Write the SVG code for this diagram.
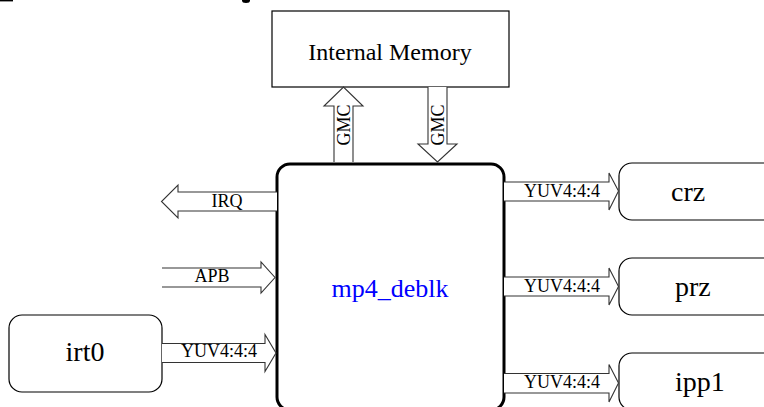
<svg xmlns="http://www.w3.org/2000/svg" width="764" height="407" viewBox="0 0 764 407">
<style>
.box{fill:#fff;stroke:#000;stroke-width:1.2}
.main{fill:#fff;stroke:#000;stroke-width:3}
.arr{fill:#fff;stroke:#333;stroke-width:1.1;stroke-linejoin:miter}
.lbl{font-family:"Liberation Serif","Times New Roman",serif;font-size:18px;fill:#000;text-anchor:middle}
.name{font-family:"Liberation Serif","Times New Roman",serif;font-size:24px;fill:#000;text-anchor:middle}
.node{font-family:"Liberation Serif","Times New Roman",serif;font-size:28px;fill:#000}
.blue{fill:#0000ff;font-size:26px}
</style>
<rect x="0" y="0" width="13" height="1.4" fill="#000"/>
<ellipse cx="246" cy="0.5" rx="4" ry="2.5" fill="#000"/>
<g id="internal_memory">
<rect class="box" x="272" y="11" width="237" height="76"/>
<text class="name" x="390" y="60">Internal Memory</text>
</g>
<g id="mp4_deblk">
<rect class="main" x="277" y="164" width="227" height="246" rx="13"/>
<text class="name blue" x="390" y="297">mp4_deblk</text>
</g>
<g id="irt0">
<rect class="box" x="9" y="315" width="153" height="77" rx="13"/>
<text class="node" x="85" y="361" text-anchor="middle">irt0</text>
</g>
<g id="crz">
<rect class="box" x="619" y="163" width="170" height="57" rx="13"/>
<text class="node" x="671" y="201">crz</text>
</g>
<g id="prz">
<rect class="box" x="619" y="258" width="170" height="57" rx="13"/>
<text class="node" x="675" y="296">prz</text>
</g>
<g id="ipp1">
<rect class="box" x="619" y="353" width="170" height="57" rx="13"/>
<text class="node" x="675" y="391">ipp1</text>
</g>
<g id="connectors">
<path class="arr" d="M334,162 V106 H324 L343.5,87 L363,106 H353 V162"/>
<text class="lbl" transform="translate(349.5,125) rotate(-90)">GMC</text>
<path class="arr" d="M428,87 V144 H418 L437.5,162 L457,144 H447 V87"/>
<text class="lbl" transform="translate(443.5,125) rotate(-90)">GMC</text>
<path class="arr" d="M277,192 H178 V185 L161.5,201.5 L178,218 V211 H277"/>
<text class="lbl" x="227" y="207">IRQ</text>
<path class="arr" d="M162,268 H261 V262 L275,277.5 L261,293 V287 H162"/>
<text class="lbl" x="212" y="282">APB</text>
<path class="arr" d="M162,343.5 H265 V334.5 L276,353 L265,371.5 V362.5 H162"/>
<text class="lbl" x="219" y="357">YUV4:4:4</text>
<path class="arr" d="M504,182 H609 V173 L618.5,191 L609,210 V201 H504"/>
<text class="lbl" x="562" y="197">YUV4:4:4</text>
<path class="arr" d="M504,277 H609 V268 L618.5,286.5 L609,305 V296 H504"/>
<text class="lbl" x="562" y="292">YUV4:4:4</text>
<path class="arr" d="M504,373.5 H609 V364.5 L618.5,383 L609,402 V393 H504"/>
<text class="lbl" x="562" y="388">YUV4:4:4</text>
</g>
</svg>
